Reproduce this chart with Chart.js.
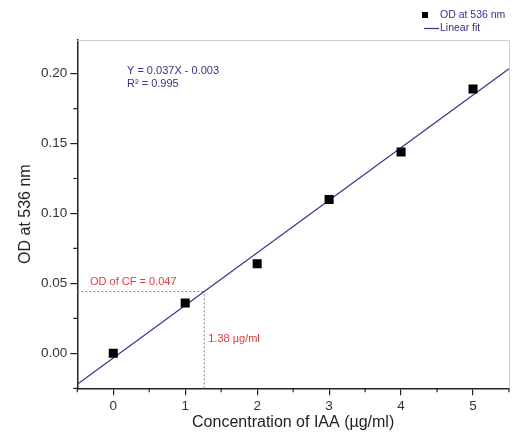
<!DOCTYPE html>
<html>
<head>
<meta charset="utf-8">
<script src="https://cdn.jsdelivr.net/npm/chart.js@4.4.1/dist/chart.umd.min.js"></script>
<style>
  html, body { margin: 0; padding: 0; background: #fff; }
  #wrap { width: 516px; height: 442px; position: relative; }
</style>
</head>
<body>
<div id="wrap"><canvas id="chart"></canvas></div>
<script>
// standard curve data
const concentrations = [0, 1, 2, 3, 4, 5];
const odValues = [0.000, 0.036, 0.064, 0.110, 0.144, 0.189];
// linear fit drawn across the whole x range
const fitX = [-0.5, 5.5];
const fitY = [-0.0222, 0.2034];
// culture filtrate reading
const cfPoint = [1.264, 0.0442];
const xTicks = [0, 1, 2, 3, 4, 5];
const yTicks = [0, 0.05, 0.10, 0.15, 0.20];
const xRange = [-0.5, 5.5];
const yRange = [-0.025, 0.224];

const FONT = '"Liberation Sans", Arial, sans-serif';
const NAVY = '#35358a';
const RED = '#e23a3f';

const toPoints = (xs, ys) => xs.map((x, i) => ({ x, y: ys[i] }));

// minor ticks halfway between the labelled ones, plus the axis ends
const minorTicks = (major, range) => {
  const step = major[1] - major[0];
  const out = [];
  for (let v = major[0] - step / 2; v <= range[1] + 1e-9; v += step) {
    if (v >= range[0] - 1e-9) out.push(v);
  }
  return out;
};

const extrasPlugin = {
  id: 'extras',
  afterDraw(chart) {
    const { ctx, chartArea: { left, right, top, bottom }, scales: { x, y } } = chart;
    ctx.save();

    // light frame on top and right
    ctx.strokeStyle = '#cfcfcf';
    ctx.lineWidth = 1;
    ctx.beginPath();
    ctx.moveTo(left, top + 0.5);
    ctx.lineTo(right + 0.5, top + 0.5);
    ctx.lineTo(right + 0.5, bottom);
    ctx.stroke();

    // minor tick marks
    ctx.strokeStyle = '#222';
    ctx.lineWidth = 1.2;
    ctx.beginPath();
    minorTicks(xTicks, xRange).forEach((v) => {
      const px = x.getPixelForValue(v);
      ctx.moveTo(px, bottom);
      ctx.lineTo(px, bottom + 4);
    });
    minorTicks(yTicks, yRange).forEach((v) => {
      const py = y.getPixelForValue(v);
      ctx.moveTo(left, py);
      ctx.lineTo(left - 4, py);
    });
    ctx.stroke();

    // fit equation
    ctx.font = `11px ${FONT}`;
    ctx.fillStyle = NAVY;
    ctx.textBaseline = 'middle';
    ctx.textAlign = 'left';
    ctx.fillText('Y = 0.037X - 0.003', 127, 71);
    ctx.fillText('R² = 0.995', 127, 84);

    // CF annotation
    const cx = x.getPixelForValue(cfPoint[0]);
    const cy = y.getPixelForValue(cfPoint[1]);
    ctx.fillStyle = RED;
    ctx.fillText('OD of CF = 0.047', 90, cy - 10);
    ctx.fillText('1.38 µg/ml', cx + 4, cy + 47);

    // legend
    const pts = chart.data.datasets[0];
    const fit = chart.data.datasets[1];
    ctx.fillStyle = '#000';
    ctx.fillRect(422, 12, 6, 6);
    ctx.strokeStyle = NAVY;
    ctx.lineWidth = 1.2;
    ctx.beginPath();
    ctx.moveTo(424, 28.5);
    ctx.lineTo(439, 28.5);
    ctx.stroke();
    ctx.fillStyle = NAVY;
    ctx.font = `10.5px ${FONT}`;
    ctx.fillText(pts.label, 440, 15);
    ctx.fillText(fit.label, 440, 28);

    ctx.restore();
  },
};

new Chart(document.getElementById('chart'), {
  type: 'scatter',
  data: {
    datasets: [
      {
        label: 'OD at 536 nm',
        data: toPoints(concentrations, odValues),
        pointStyle: 'rect',
        pointRadius: 6.4,
        backgroundColor: '#000',
        borderWidth: 0,
        order: 0,
      },
      {
        label: 'Linear fit',
        data: toPoints(fitX, fitY),
        showLine: true,
        pointRadius: 0,
        borderColor: NAVY,
        borderWidth: 1.2,
        order: 1,
      },
      {
        label: 'cf-h',
        data: toPoints([xRange[0], cfPoint[0]], [cfPoint[1], cfPoint[1]]),
        showLine: true,
        pointRadius: 0,
        borderColor: '#8a8a8a',
        borderWidth: 1,
        borderDash: [2, 2],
        order: 2,
      },
      {
        label: 'cf-v',
        data: toPoints([cfPoint[0], cfPoint[0]], [yRange[0], cfPoint[1]]),
        showLine: true,
        pointRadius: 0,
        borderColor: '#8a8a8a',
        borderWidth: 1,
        borderDash: [2, 2],
        order: 2,
      },
    ],
  },
  options: {
    responsive: true,
    maintainAspectRatio: false,
    animation: false,
    layout: { padding: { top: 40, right: 7, left: 0, bottom: 0 } },
    plugins: {
      legend: { display: false },
      tooltip: { enabled: false },
    },
    scales: {
      x: {
        type: 'linear',
        min: xRange[0],
        max: xRange[1],
        afterFit: (scale) => { scale.height = 53.7; },
        afterBuildTicks: (scale) => { scale.ticks = xTicks.map((v) => ({ value: v })); },
        border: { display: true, color: '#222', width: 1.5 },
        grid: { drawOnChartArea: false, drawTicks: true, tickLength: 7, color: '#222', lineWidth: 1.2 },
        ticks: {
          font: { family: FONT, size: 13.5 },
          color: '#333',
          padding: 3,
          maxRotation: 0,
          callback: (v) => String(v),
        },
        title: {
          display: true,
          text: 'Concentration of IAA (µg/ml)',
          font: { family: FONT, size: 16 },
          color: '#222',
          padding: { top: 0, bottom: 9.5 },
        },
      },
      y: {
        type: 'linear',
        min: yRange[0],
        max: yRange[1],
        afterFit: (scale) => { scale.width = 77.3; },
        afterBuildTicks: (scale) => { scale.ticks = yTicks.map((v) => ({ value: v })); },
        border: { display: true, color: '#222', width: 1.5 },
        grid: { drawOnChartArea: false, drawTicks: true, tickLength: 7, color: '#222', lineWidth: 1.2 },
        ticks: {
          font: { family: FONT, size: 13.5 },
          color: '#333',
          padding: 3,
          callback: (v) => Number(v).toFixed(2),
        },
        title: {
          display: true,
          text: 'OD at 536 nm',
          font: { family: FONT, size: 16 },
          color: '#222',
          padding: { top: 16, bottom: 0 },
        },
      },
    },
  },
  plugins: [extrasPlugin],
});
</script>
</body>
</html>
